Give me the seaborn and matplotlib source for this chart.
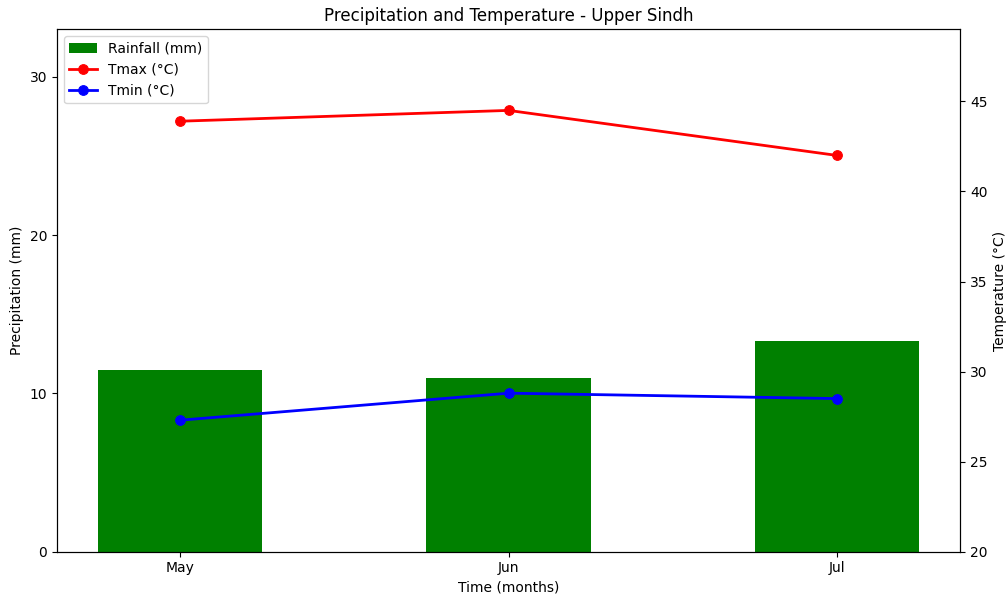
import numpy as np
import pandas as pd
import matplotlib
matplotlib.use("Agg")
import matplotlib.pyplot as plt
import seaborn as sns

months = ["May", "Jun", "Jul"]
rainfall_mm = [11.5, 11.0, 13.3]
tmax_c = [43.9, 44.5, 42.0]
tmin_c = [27.3, 28.8, 28.5]

df = pd.DataFrame({
    "month": months,
    "pos": np.arange(len(months)),
    "rain": rainfall_mm,
    "tmax": tmax_c,
    "tmin": tmin_c,
})

fig, ax1 = plt.subplots(figsize=(10.08, 5.99), dpi=100)
fig.subplots_adjust(left=0.0565, right=0.9525, top=0.951, bottom=0.079)

sns.barplot(data=df, x="month", y="rain", ax=ax1, color="green",
            saturation=1, width=0.5, label="Rainfall (mm)")
ax1.set_xlim(-0.375, 2.375)
ax1.set_ylim(0, 33)
ax1.set_yticks([0, 10, 20, 30])
ax1.set_xlabel("Time (months)")
ax1.set_ylabel("Precipitation (mm)")
ax1.set_title("Precipitation and Temperature - Upper Sindh", fontsize=12)

ax2 = ax1.twinx()
sns.lineplot(data=df, x="pos", y="tmax", ax=ax2, color="red", marker="o",
             markersize=7, markeredgecolor="red", linewidth=2, label="Tmax (°C)")
sns.lineplot(data=df, x="pos", y="tmin", ax=ax2, color="blue", marker="o",
             markersize=7, markeredgecolor="blue", linewidth=2, label="Tmin (°C)")
ax2.set_ylim(20, 49)
ax2.set_yticks([20, 25, 30, 35, 40, 45])
ax2.set_ylabel("Temperature (°C)")
ax2.set_xlabel("")
ax1.set_xlim(-0.375, 2.375)

h1, l1 = ax1.get_legend_handles_labels()
h2, l2 = ax2.get_legend_handles_labels()
if ax1.get_legend() is not None:
    ax1.get_legend().remove()
ax2.legend(h1 + h2, l1 + l2, loc="upper left")

fig.savefig("out.png", dpi=100)
